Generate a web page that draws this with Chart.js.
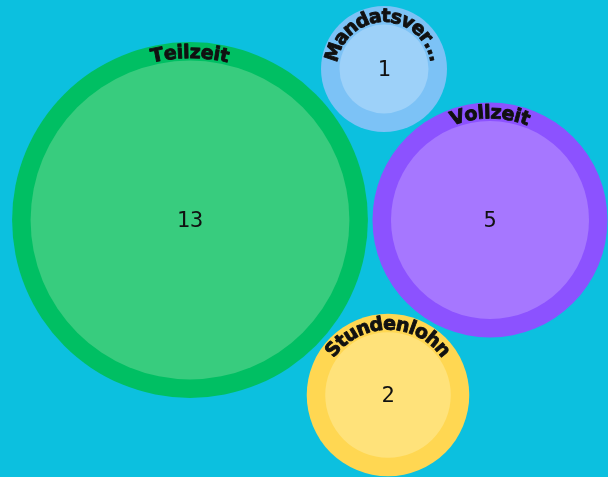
<!DOCTYPE html>
<html><head><meta charset="utf-8">
<script src="https://cdn.jsdelivr.net/npm/chart.js@4"></script>
<style>html,body{margin:0;padding:0;background:#0cc0df;}#wrap{width:608px;height:477px;}</style>
</head><body><div id="wrap"><canvas id="c"></canvas></div>
<script>
const categories = ["Teilzeit", "Mandatsverhältnis", "Vollzeit", "Stundenlohn"];
const counts = [13, 1, 5, 2];
const centerX = [190, 384, 490, 388];
const centerY = [220, 69, 220, 395];
const outerColors = ["#00bf63", "#7cc2f6", "#8c52ff", "#ffd752"];
const innerColors = ["#38cc7e", "#9dd1f9", "#a677ff", "#ffe27a"];

const radiusOf = v => 18.9 + 44.1 * Math.sqrt(v);
const ring = 18.5;

Chart.BubbleController.prototype.getMaxOverflow = function () { return 0; };

const bg = {
  id: 'bg',
  beforeDraw(chart) {
    const c = chart.ctx;
    c.save(); c.fillStyle = '#0cc0df'; c.fillRect(0, 0, chart.width, chart.height); c.restore();
  }
};

const labels = {
  id: 'labels',
  afterDatasetsDraw(chart) {
    const c = chart.ctx;
    const meta = chart.getDatasetMeta(0);
    meta.data.forEach((pt, i) => {
      const r = radiusOf(counts[i]);
      const cx = pt.x, cy = pt.y;
      c.save();
      c.fillStyle = '#111';
      c.textAlign = 'center'; c.textBaseline = 'middle';
      c.font = '22px "DejaVu Sans Mono", monospace';
      c.fillText(String(counts[i]), cx, cy + 1);
      // curved label
      c.font = 'bold 19px "DejaVu Sans", sans-serif';
      c.strokeStyle = '#111'; c.lineWidth = 0.9; c.lineJoin = 'round';
      const spacing = 0;
      const tr = r - 11;
      const maxAng = Math.PI * 0.97;
      let text = categories[i];
      const width = s => { let w = 0; for (const ch of s) w += c.measureText(ch).width + spacing; return w - spacing; };
      if (width(text) / tr > maxAng) {
        while (text.length > 1 && width(text + '...') / tr > maxAng) text = text.slice(0, -1);
        text = text + '...';
      }
      const total = width(text);
      let a = -Math.PI / 2 - total / tr / 2;
      for (const ch of text) {
        const w = c.measureText(ch).width;
        const mid = a + (w / 2) / tr;
        c.save();
        c.translate(cx + tr * Math.cos(mid), cy + tr * Math.sin(mid));
        c.rotate(mid + Math.PI / 2);
        c.fillText(ch, 0, 0);
        c.strokeText(ch, 0, 0);
        c.restore();
        a += (w + spacing) / tr;
      }
      c.restore();
    });
  }
};

new Chart(document.getElementById('c'), {
  type: 'bubble',
  data: {
    datasets: [
      {
        data: counts.map((v, i) => ({ x: centerX[i], y: centerY[i], r: radiusOf(v) })),
        backgroundColor: outerColors, borderWidth: 0, hoverRadius: 0, clip: false, order: 1
      },
      {
        data: counts.map((v, i) => ({ x: centerX[i], y: centerY[i], r: radiusOf(v) - ring })),
        backgroundColor: innerColors, borderWidth: 0, hoverRadius: 0, clip: false, order: 0
      }
    ]
  },
  options: {
    responsive: true, maintainAspectRatio: false, animation: false, events: [],
    layout: { padding: 0 },
    plugins: { legend: { display: false }, tooltip: { enabled: false } },
    scales: {
      x: { type: 'linear', min: 0, max: 608, display: false },
      y: { type: 'linear', min: 0, max: 477, reverse: true, display: false }
    }
  },
  plugins: [bg, labels]
});
</script></body></html>
